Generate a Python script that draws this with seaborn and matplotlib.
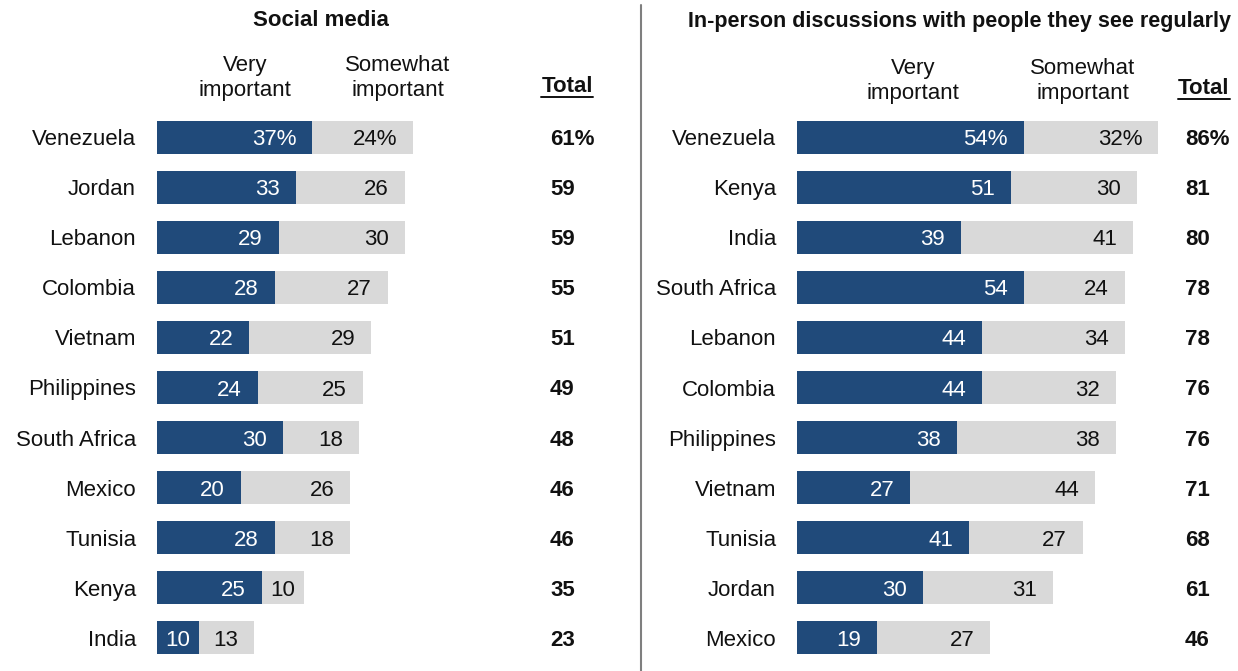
import matplotlib
matplotlib.use("Agg")
import matplotlib.pyplot as plt
import seaborn as sns
import pandas as pd
from matplotlib.lines import Line2D

# Social media
sm_countries = ["Venezuela", "Jordan", "Lebanon", "Colombia", "Vietnam", "Philippines",
                "South Africa", "Mexico", "Tunisia", "Kenya", "India"]
sm_very = [37, 33, 29, 28, 22, 24, 30, 20, 28, 25, 10]
sm_somewhat = [24, 26, 30, 27, 29, 25, 18, 26, 18, 10, 13]
sm_total = [61, 59, 59, 55, 51, 49, 48, 46, 46, 35, 23]

# In-person discussions
ip_countries = ["Venezuela", "Kenya", "India", "South Africa", "Lebanon", "Colombia",
                "Philippines", "Vietnam", "Tunisia", "Jordan", "Mexico"]
ip_very = [54, 51, 39, 54, 44, 44, 38, 27, 41, 30, 19]
ip_somewhat = [32, 30, 41, 24, 34, 32, 38, 44, 27, 31, 27]
ip_total = [86, 81, 80, 78, 78, 76, 76, 71, 68, 61, 46]

titles = ["Social media", "In-person discussions with people they see regularly"]
col_very = "Very\nimportant"
col_somewhat = "Somewhat\nimportant"
col_total = "Total"

BLUE = "#204a7a"
GRAY = "#d9d9d9"
INK = "#111111"
FS = 16
W, H = 1238, 671

sns.set_theme(style="white")
plt.rcParams["font.family"] = ["Liberation Sans", "DejaVu Sans"]

fig = plt.figure(figsize=(W / 100, H / 100), dpi=100)


def fx(x):
    return x / W


def fy(y):
    return 1 - y / H


def panel(left_px, countries, very, somewhat, total, total_px):
    ax = fig.add_axes([fx(left_px), fy(663), 420 / W, 551 / H])
    df = pd.DataFrame({"country": countries,
                       "very": very,
                       "stack": [v + s for v, s in zip(very, somewhat)]})
    sns.barplot(data=df, y="country", x="stack", color=GRAY, width=0.66,
                saturation=1, ax=ax, edgecolor="none")
    sns.barplot(data=df, y="country", x="very", color=BLUE, width=0.66,
                saturation=1, ax=ax, edgecolor="none")
    ax.set_xlim(0, 100)
    ax.set_ylim(10.5, -0.5)
    ax.set_xlabel("")
    ax.set_ylabel("")
    ax.set_xticks([])
    sns.despine(ax=ax, left=True, bottom=True)
    ax.tick_params(axis="y", length=0, pad=15, labelsize=FS, labelcolor=INK)

    for i, (v, s) in enumerate(zip(very, somewhat)):
        suffix = "%" if i == 0 else ""
        if v <= 10:
            ax.text(v / 2, i, f"{v}{suffix}", ha="center", va="center_baseline",
                    color="white", fontsize=FS)
        else:
            ax.text(v - 3.8, i, f"{v}{suffix}", ha="right", va="center_baseline",
                    color="white", fontsize=FS)
        if s <= 10:
            ax.text(v + s / 2, i, f"{s}{suffix}", ha="center", va="center_baseline",
                    color=INK, fontsize=FS)
        else:
            ax.text(v + s - 3.8, i, f"{s}{suffix}", ha="right", va="center_baseline",
                    color=INK, fontsize=FS)
    for i, t in enumerate(total):
        suffix = "%" if i == 0 else ""
        fig.text(fx(total_px), fy(137 + i * 50.1), f"{t}{suffix}", ha="left",
                 va="center_baseline", fontsize=FS, fontweight="bold", color=INK)
    return ax


panel(157, sm_countries, sm_very, sm_somewhat, sm_total, 550)
panel(797, ip_countries, ip_very, ip_somewhat, ip_total, 1185)

# Panel titles
fig.text(fx(321), fy(20), titles[0], ha="center", va="center",
         fontsize=FS, fontweight="bold", color=INK)
fig.text(fx(960), fy(21), titles[1], ha="center", va="center",
         fontsize=15.5, fontweight="bold", color=INK)

# Column headers
for x, y in [(245, 78), (913, 81)]:
    fig.text(fx(x), fy(y), col_very, ha="center", va="center", fontsize=FS,
             linespacing=1.3, color=INK)
for x, y in [(398, 78), (1083, 81)]:
    fig.text(fx(x), fy(y), col_somewhat, ha="center", va="center", fontsize=FS,
             linespacing=1.3, color=INK)

totals_hdr = []
for x, y in [(567, 87), (1204, 89)]:
    totals_hdr.append(fig.text(fx(x), fy(y), col_total, ha="center", va="center",
                               fontsize=FS, fontweight="bold", color=INK))

# Underline the "Total" headers
fig.canvas.draw()
renderer = fig.canvas.get_renderer()
for t in totals_hdr:
    bb = t.get_window_extent(renderer).transformed(fig.transFigure.inverted())
    fig.add_artist(Line2D([bb.x0, bb.x1], [bb.y0 + 0.001, bb.y0 + 0.001],
                          transform=fig.transFigure, color=INK, lw=1.4))

# Divider between panels
fig.add_artist(Line2D([fx(641), fx(641)], [fy(5), 0], transform=fig.transFigure,
                      color="#7f7f7f", lw=1.5))

fig.savefig("out.png", dpi=100)
